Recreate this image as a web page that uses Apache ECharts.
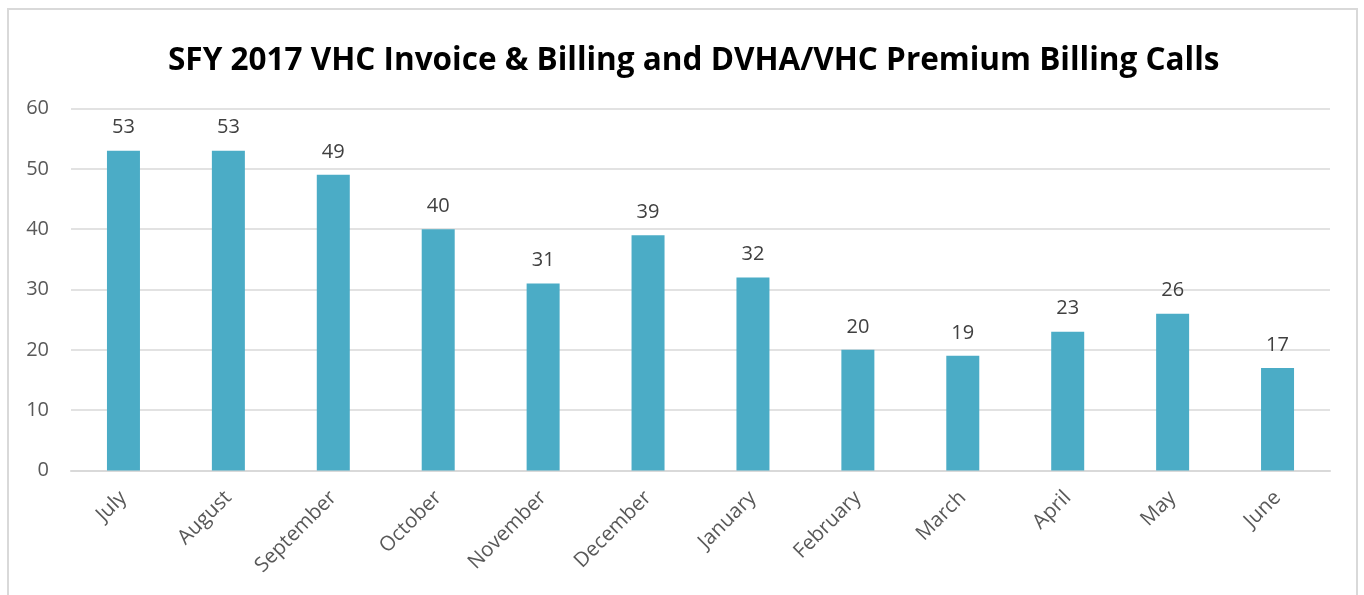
<!DOCTYPE html>
<html>
<head>
<meta charset="utf-8">
<script src="https://cdn.jsdelivr.net/npm/echarts@6/dist/echarts.min.js"></script>
<style>
  html, body { margin: 0; padding: 0; background: #fff; }
  #frame {
    position: absolute; left: 7px; top: 8px; width: 1351px; height: 600px;
    border: 2px solid #d9d9d9; border-bottom: none; box-sizing: border-box;
  }
  #chart { position: absolute; left: 0; top: 0; width: 1364px; height: 595px; }
</style>
</head>
<body>
<div id="frame"></div>
<div id="chart"></div>
<script>
// 月份
var months = ['July', 'August', 'September', 'October', 'November', 'December',
  'January', 'February', 'March', 'April', 'May', 'June']
// 通话数
var calls = [53, 53, 49, 40, 31, 39, 32, 20, 19, 23, 26, 17]
// y轴刻度
var yTicks = [0, 10, 20, 30, 40, 50, 60]

var font = '"Open Sans", "Noto Sans", sans-serif'

var option = {
  animation: false,
  title: {
    text: 'SFY 2017 VHC Invoice & Billing and DVHA/VHC Premium Billing Calls',
    left: 163,
    top: 40,
    textStyle: { fontFamily: font, fontSize: 31.5, fontWeight: 'bold', color: '#000' }
  },
  grid: { left: 71, right: 34, top: 108.5, bottom: 124.5, containLabel: false },
  xAxis: {
    type: 'category',
    data: months,
    axisLine: { lineStyle: { color: '#d9d9d9', width: 2 } },
    axisTick: { show: false },
    axisLabel: { rotate: 45, color: '#595959', fontFamily: font, fontSize: 20.5, margin: 24, interval: 0 }
  },
  yAxis: {
    type: 'value',
    min: yTicks[0],
    max: yTicks[yTicks.length - 1],
    interval: 10,
    axisLine: { show: false },
    axisTick: { show: false },
    splitLine: { lineStyle: { color: '#d9d9d9', width: 1.5 } },
    axisLabel: { color: '#595959', fontFamily: font, fontSize: 20, margin: 22 }
  },
  series: [{
    type: 'bar',
    data: calls,
    barWidth: 33,
    itemStyle: { color: '#4bacc6' },
    label: {
      show: true,
      position: 'top',
      distance: 13,
      color: '#404040',
      fontFamily: font,
      fontSize: 20
    }
  }]
}

var chartObj = echarts.init(document.getElementById('chart'))
chartObj.setOption(option)
</script>
</body>
</html>
